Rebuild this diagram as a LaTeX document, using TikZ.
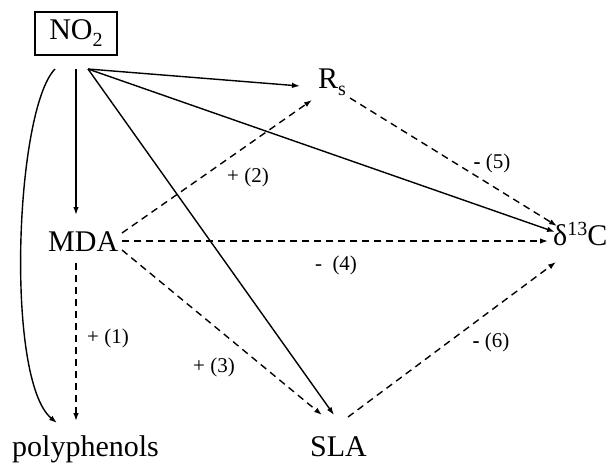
\documentclass[tikz,border=0pt]{standalone}
\usepackage{fontspec}
\setmainfont{Liberation Serif}
\usetikzlibrary{arrows.meta}
\begin{document}
\begin{tikzpicture}[x=1pt,y=-1pt,
  big/.style={font=\fontsize{30}{36}\selectfont, inner sep=0pt, anchor=base west},
  boxnode/.style={draw, line width=1.3pt, minimum width=82pt, minimum height=43pt, inner sep=0pt, font=\fontsize{30}{36}\selectfont},
  lab/.style={font=\fontsize{21}{24}\selectfont, inner sep=0pt},
  sol/.style={line width=1.4pt, -{Latex[length=8pt,width=5.5pt]}},
  dsh/.style={line width=1.4pt, dash pattern=on 7pt off 5pt, -{Latex[length=8pt,width=5.5pt]}}]
\useasboundingbox (0,0) rectangle (613,464);

\newcommand{\smallsub}[1]{\raisebox{-7pt}{\fontsize{20}{20}\selectfont #1}}
\newcommand{\smallsup}[1]{\raisebox{10pt}{\fontsize{20}{20}\selectfont #1}}

% main nodes
\node[boxnode] (no2) at (76,33.5) {NO\smallsub{2}};
\node[big] (rs) at (318,88) {R\smallsub{s}};
\node[big] (d13c) at (553,245) {δ\smallsup{13}C};
\node[big] (mda) at (48,251) {MDA};
\node[big] (poly) at (12,456) {polyphenols};
\node[big] (sla) at (310,456) {SLA};

% connector end points
\coordinate (no2a) at (88,69);
\coordinate (no2b) at (76,69);
\coordinate (no2c) at (55,69);
\coordinate (rsin1) at (300,86);
\coordinate (rsin2) at (312,100);
\coordinate (rsout) at (350,98);
\coordinate (dcin1) at (555,232);
\coordinate (dcin2) at (557,226);
\coordinate (dcin3) at (548,241);
\coordinate (dcin4) at (556,262);
\coordinate (mdatop) at (76,215);
\coordinate (mdaa) at (122,233);
\coordinate (mdab) at (122,241);
\coordinate (mdac) at (122,250);
\coordinate (mdad) at (76,263);
\coordinate (slain1) at (334,415);
\coordinate (slain2) at (322,415);
\coordinate (slaout) at (348,417);
\coordinate (polyin1) at (57,423);
\coordinate (polyin2) at (76,421);

% solid connectors from NO2
\draw[sol] (no2a) -- (rsin1);
\draw[sol] (no2a) -- (dcin1);
\draw[sol] (no2a) -- (slain1);
\draw[sol] (no2b) -- (mdatop);
\draw[sol] (no2c) .. controls (15,110) and (5,380) .. (polyin1);

% dashed connectors
\draw[dsh] (mdaa) -- (rsin2);
\draw[dsh] (mdab) -- (dcin3);
\draw[dsh] (mdac) -- (slain2);
\draw[dsh] (mdad) -- (polyin2);
\draw[dsh] (rsout) -- (dcin2);
\draw[dsh] (slaout) -- (dcin4);

% labels
\node[lab] (l1) at (108,338) {+ (1)};
\node[lab] (l2) at (248,177) {+ (2)};
\node[lab] (l3) at (214,367) {+ (3)};
\node[lab] (l4) at (336,265) {-\ \ (4)};
\node[lab] (l5) at (492,163) {\textbf{-} (5)};
\node[lab] (l6) at (491,342) {\textbf{-} (6)};
\end{tikzpicture}
\end{document}
